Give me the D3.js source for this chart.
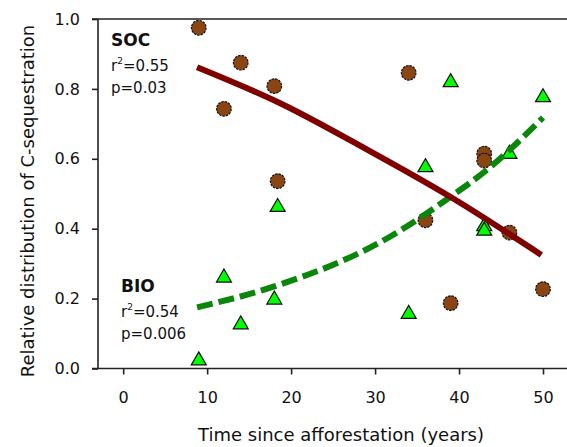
<!DOCTYPE html>
<html>
<head>
<meta charset="utf-8">
<script src="https://cdn.jsdelivr.net/npm/d3@7"></script>
<style>
    body { margin: 0; background: #fff; }
    svg text { font-family: "DejaVu Sans", sans-serif; fill: #111; }
</style>
</head>
<body>
<div id="chart"></div>
<script>
// values
var years    = [9, 12, 14, 18, 18.4, 34, 36, 39, 43, 43, 46, 50];
var socShare = [0.975, 0.743, 0.875, 0.808, 0.536, 0.846, 0.424, 0.187, 0.615, 0.595, 0.389, 0.227];
var bioShare = [0.029, 0.266, 0.132, 0.203, 0.468, 0.162, 0.582, 0.825, 0.413, 0.400, 0.620, 0.782];

// fitted curves, points
var socFitX = [8.8, 18.7, 29, 38.9, 49.8];
var socFitY = [0.862, 0.759, 0.627, 0.492, 0.325];
var bioFitX = [8.8, 17.9, 31.4, 38.9, 43.3, 50];
var bioFitY = [0.175, 0.234, 0.372, 0.49, 0.568, 0.718];

var xTicks = [0, 10, 20, 30, 40, 50];
var yTicks = [0, 0.2, 0.4, 0.6, 0.8, 1.0];

var width = 567, height = 447;

var svg = d3.select("#chart")
    .append("svg")
    .attr("width", width)
    .attr("height", height)

var xScale = d3.scaleLinear().domain([-3, 50]).range([98, 543]);
var yScale = d3.scaleLinear().domain([0, 1]).range([368.5, 19]);

var x0 = xScale.range()[0];

// frame: top and bottom lines run to the right edge, no right axis
var frame = svg.append("g").attr("stroke", "#222").attr("stroke-width", 1.6)
frame.append("line")
    .attr("x1", x0 - 6).attr("x2", width)
    .attr("y1", yScale(1)).attr("y2", yScale(1))
frame.append("line")
    .attr("x1", x0 - 6).attr("x2", width)
    .attr("y1", yScale(0)).attr("y2", yScale(0))
frame.append("line")
    .attr("x1", x0).attr("x2", x0)
    .attr("y1", yScale(1)).attr("y2", yScale(0))

var xAxis = d3.axisBottom(xScale)
    .tickValues(xTicks)
    .tickSize(6)
    .tickPadding(17)
    .tickFormat(d3.format("d"))

svg.append("g")
    .attr("transform", "translate(0," + yScale(0) + ")")
    .call(xAxis)
    .call(function (g) { g.select(".domain").remove() })

var yAxis = d3.axisLeft(yScale)
    .tickValues(yTicks)
    .tickSize(6)
    .tickPadding(12)
    .tickFormat(d3.format(".1f"))

svg.append("g")
    .attr("transform", "translate(" + x0 + ",0)")
    .call(yAxis)
    .call(function (g) { g.select(".domain").remove() })

svg.selectAll(".tick line").attr("stroke", "#222").attr("stroke-width", 1.6)
svg.selectAll(".tick text")
    .attr("font-family", "DejaVu Sans")
    .attr("font-size", 16)
    .attr("fill", "#111")

// axis titles
svg.append("text")
    .attr("x", 341)
    .attr("y", 441)
    .attr("text-anchor", "middle")
    .attr("font-size", 18)
    .text("Time since afforestation (years)")

svg.append("text")
    .attr("transform", "translate(34,201) rotate(-90)")
    .attr("text-anchor", "middle")
    .attr("font-size", 18)
    .text("Relative distribution of C-sequestration")

// markers
var points = years.map(function (d, i) {
    return {year: d, soc: socShare[i], bio: bioShare[i]};
});

svg.append("g").selectAll("circle")
    .data(points)
    .enter()
    .append("circle")
    .attr("cx", function (d) { return xScale(d.year) })
    .attr("cy", function (d) { return yScale(d.soc) })
    .attr("r", 7.3)
    .attr("fill", "#8b4513")
    .attr("stroke", "#111")
    .attr("stroke-width", 1.2)
    .attr("stroke-dasharray", "2.5,1")

svg.append("g").selectAll("path")
    .data(points)
    .enter()
    .append("path")
    .attr("d", "M0,-6.5L7.5,6.5L-7.5,6.5Z")
    .attr("transform", function (d) {
        return "translate(" + xScale(d.year) + "," + yScale(d.bio) + ")";
    })
    .attr("fill", "#00ff00")
    .attr("stroke", "#111")
    .attr("stroke-width", 1.2)

// fitted lines
var line = d3.line()
    .x(function (d) { return xScale(d[0]) })
    .y(function (d) { return yScale(d[1]) })
    .curve(d3.curveMonotoneX)

svg.append("path")
    .datum(d3.zip(bioFitX, bioFitY))
    .attr("d", line)
    .attr("fill", "none")
    .attr("stroke", "#0a870a")
    .attr("stroke-width", 6)
    .attr("stroke-dasharray", "16,6")

svg.append("path")
    .datum(d3.zip(socFitX, socFitY))
    .attr("d", line)
    .attr("fill", "none")
    .attr("stroke", "#800000")
    .attr("stroke-width", 6)

// annotations
function annotate(x, y, name, r2, p) {
    svg.append("text")
        .attr("x", x).attr("y", y)
        .attr("font-size", 17)
        .attr("font-weight", "bold")
        .text(name)

    var t = svg.append("text")
        .attr("x", x).attr("y", y + 25)
        .attr("font-size", 15)
    t.append("tspan").text("r")
    t.append("tspan").attr("font-size", 9).attr("dy", -7).text("2")
    t.append("tspan").attr("dy", 7).text("=" + r2)

    svg.append("text")
        .attr("x", x).attr("y", y + 47)
        .attr("font-size", 15)
        .text("p=" + p)
}

annotate(111, 46, "SOC", "0.55", "0.03")
annotate(121, 292, "BIO", "0.54", "0.006")
</script>
</body>
</html>
